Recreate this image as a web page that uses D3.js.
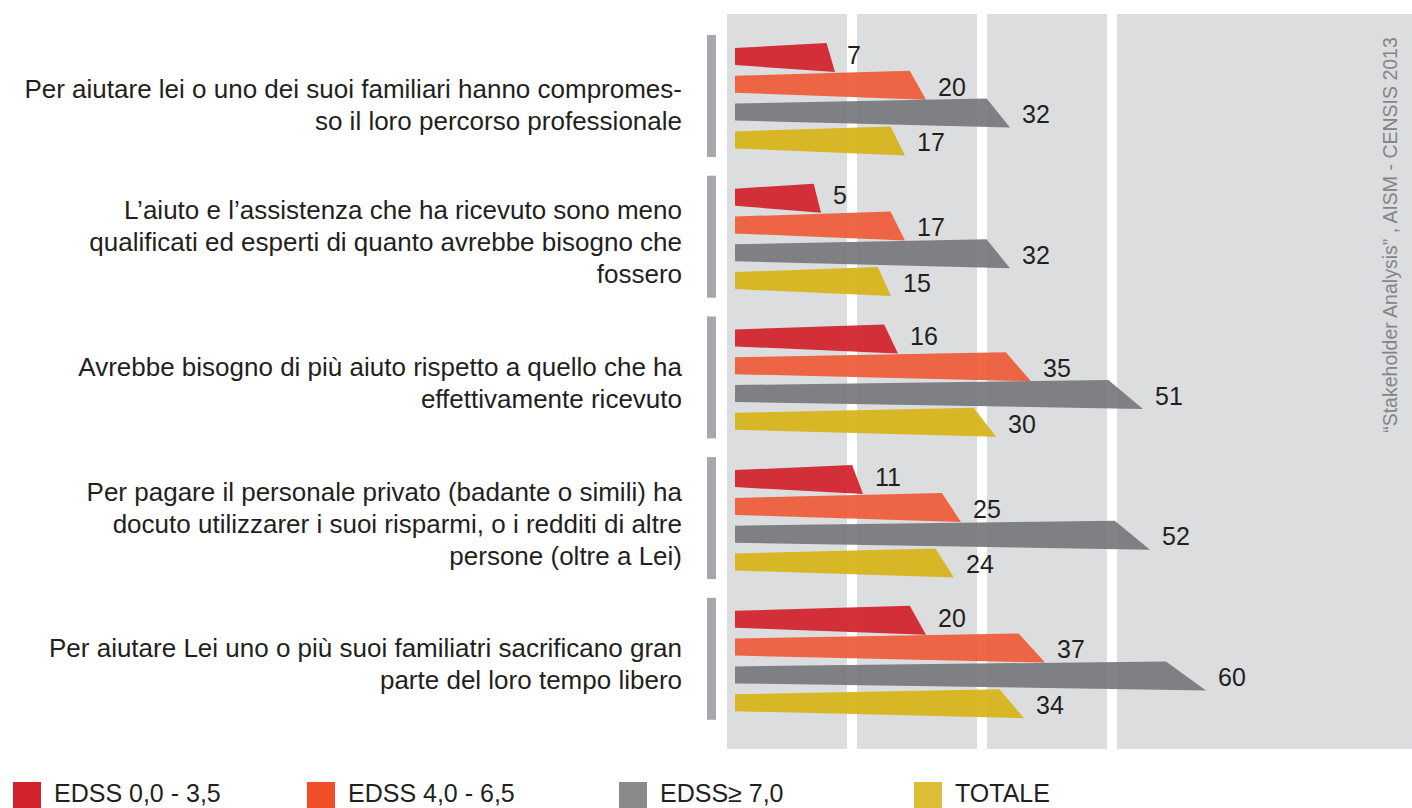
<!DOCTYPE html>
<html>
<head>
<meta charset="utf-8">
<script src="https://cdn.jsdelivr.net/npm/d3@7"></script>
<style>
  body { margin: 0; background: #fff; }
  svg text { font-family: "Liberation Sans", Arial, Helvetica, sans-serif; }
</style>
</head>
<body>
<div id="chart"></div>
<script>
// data
const categories = [
  ["Per aiutare lei o uno dei suoi familiari hanno compromes-", "so il loro percorso professionale"],
  ["L’aiuto e l’assistenza che ha ricevuto sono meno", "qualificati ed esperti di quanto avrebbe bisogno che", "fossero"],
  ["Avrebbe bisogno di più aiuto rispetto a quello che ha", "effettivamente ricevuto"],
  ["Per pagare il personale privato (badante o simili) ha", "docuto utilizzarer i suoi risparmi, o i redditi di altre", "persone (oltre a Lei)"],
  ["Per aiutare Lei uno o più suoi familiatri sacrificano gran", "parte del loro tempo libero"]
]
const seriesNames = ["EDSS 0,0 - 3,5", "EDSS 4,0 - 6,5", "EDSS≥ 7,0", "TOTALE"]
const edssLow = [7, 5, 16, 11, 20]
const edssMid = [20, 17, 35, 25, 37]
const edssHigh = [32, 32, 51, 52, 60]
const totale = [17, 15, 30, 24, 34]
const source = "“Stakeholder Analysis” , AISM - CENSIS 2013"

// styles
const barColors = ["#d0202a", "#ee5a36", "#76777b", "#d6b315"]
const legendColors = ["#d2232a", "#f04e29", "#8a8a8c", "#dcbd35"]

const width = 1412, height = 808
const base = 735          // left edge of the bars
const barH = 17

const svg = d3.select("#chart").append("svg")
    .attr("width", width)
    .attr("height", height)

const rows = categories.map((c, i) => ({
  lines: c,
  values: [edssLow[i], edssMid[i], edssHigh[i], totale[i]]
}))

// scales
const x = d3.scaleLinear().domain([0, 60]).range([786, 1206])
const yGroup = d3.scaleBand().domain(d3.range(categories.length)).range([35, 35 + 5 * 140.7])
const ySeries = d3.scaleBand().domain(d3.range(seriesNames.length)).range([13, 13 + 4 * 27.8])

// background columns
const cols = [[727, 847], [857, 977], [987, 1107], [1117, 1412]]
svg.selectAll(".col")
    .data(cols)
    .enter().append("rect")
    .attr("x", d => d[0])
    .attr("y", 14)
    .attr("width", d => d[1] - d[0])
    .attr("height", 749 - 14)
    .style("fill", "#dcdddf")

// source note (rotated)
svg.append("text")
    .attr("transform", "translate(1397,235) rotate(-90)")
    .attr("text-anchor", "middle")
    .style("font-size", "19.5px")
    .style("fill", "#848589")
    .text(source)

const groups = svg.selectAll(".group")
    .data(rows)
    .enter().append("g")
    .attr("class", "group")
    .attr("transform", (d, i) => "translate(0," + yGroup(i) + ")")

// bracket on the left
groups.append("rect")
    .attr("x", 707)
    .attr("y", 0)
    .attr("width", 9)
    .attr("height", 122)
    .style("fill", "#a7a8ab")

// category labels
groups.each(function(d, i) {
  const g = d3.select(this)
  const n = d.lines.length
  const mid = yGroup.bandwidth() / 2 - (i === 0 ? 0 : 4)
  g.selectAll(".cat")
    .data(d.lines)
    .enter().append("text")
    .attr("x", 682)
    .attr("y", (l, j) => mid + (j - (n - 1) / 2) * 32)
    .attr("dy", "0.35em")
    .attr("text-anchor", "end")
    .style("font-size", "26px")
    .style("fill", "#231f20")
    .text(l => l)
})

// bars, drawn as slanted arrow-like shapes
function barPath(v, t) {
  const tip = x(v)
  const topEnd = tip - (tip - base) * 0.085
  return "M" + base + "," + t +
         "L" + topEnd + "," + (t - 5) +
         "L" + tip + "," + (t + barH + 7) +
         "L" + base + "," + (t + barH) + "Z"
}

groups.selectAll(".bar")
    .data(d => d.values)
    .enter().append("path")
    .attr("class", "bar")
    .attr("d", (v, j) => barPath(v, ySeries(j)))
    .style("fill", (v, j) => barColors[j])
    .style("opacity", 0.92)

groups.selectAll(".val")
    .data(d => d.values)
    .enter().append("text")
    .attr("class", "val")
    .attr("x", v => x(v) + 12)
    .attr("y", (v, j) => ySeries(j) + (j === 0 ? 7 : 11))
    .attr("dy", "0.35em")
    .style("font-size", "25px")
    .style("fill", "#231f20")
    .text(v => v)

// legend
const legendX = [13, 307, 619, 914]
const legend = svg.selectAll(".legend")
    .data(seriesNames)
    .enter().append("g")
    .attr("transform", (d, i) => "translate(" + legendX[i] + ",782)")

legend.append("rect")
    .attr("width", 28)
    .attr("height", 26)
    .style("fill", (d, i) => legendColors[i])

legend.append("text")
    .attr("x", 41)
    .attr("y", 20)
    .style("font-size", "25px")
    .style("fill", "#231f20")
    .text(d => d)
</script>
</body>
</html>
